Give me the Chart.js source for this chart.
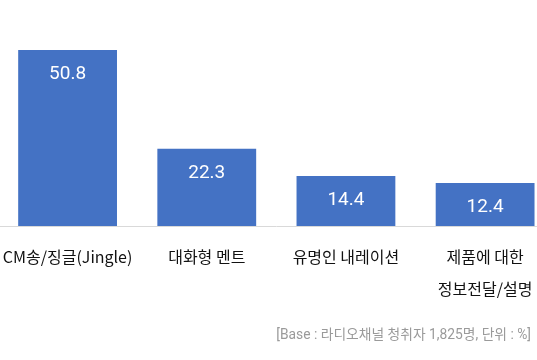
<!DOCTYPE html>
<html>
<head>
<meta charset="utf-8">
<script src="https://cdn.jsdelivr.net/npm/chart.js@4.4.1/dist/chart.umd.min.js"></script>
<style>
  html, body { margin: 0; padding: 0; background: #fff; overflow: hidden; width: 537px; height: 360px; }
  #wrap { position: absolute; left: -10px; top: 0; width: 580px; height: 360px; }
  #note { position: absolute; right: 6px; top: 325px; font: 13.8px Roboto, "Noto Sans CJK KR", sans-serif; line-height: 18px; color: #9a9a9a; white-space: nowrap; }
</style>
</head>
<body>
<div id="wrap"><canvas id="c"></canvas></div>
<div id="note">[Base : 라디오채널 청취자 1,825명, 단위 : %]</div>
<script>
const categories = ["CM송/징글(Jingle)", "대화형 멘트", "유명인 내레이션", ["제품에 대한", "정보전달/설명"]];
const values = [50.8, 22.3, 14.4, 12.4];
const yMax = 60;

const valueLabels = {
  id: 'valueLabels',
  afterDatasetsDraw(chart) {
    const ctx = chart.ctx;
    const meta = chart.getDatasetMeta(0);
    ctx.save();
    ctx.fillStyle = '#ffffff';
    ctx.font = '19px Roboto, "Noto Sans", sans-serif';
    ctx.textAlign = 'center';
    ctx.textBaseline = 'middle';
    meta.data.forEach((bar, i) => {
      ctx.fillText(values[i].toFixed(1), bar.x, bar.y + 24.5);
    });
    ctx.restore();
  }
};

new Chart(document.getElementById('c'), {
  type: 'bar',
  data: {
    labels: categories,
    datasets: [{
      data: values,
      backgroundColor: '#4472C4',
      borderWidth: 0,
      categoryPercentage: 1,
      barPercentage: 0.71
    }]
  },
  options: {
    responsive: true,
    maintainAspectRatio: false,
    animation: false,
    layout: { padding: { left: 8, right: 15.3, top: 18, bottom: 0 } },
    plugins: { legend: { display: false }, tooltip: { enabled: false } },
    scales: {
      x: {
        grid: { display: false, drawTicks: false },
        border: { display: true, color: '#d9d9d9', width: 1 },
        ticks: {
          color: '#111111',
          padding: 15,
          maxRotation: 0,
          autoSkip: false,
          font: { family: '"Noto Sans CJK KR", sans-serif', size: 16, lineHeight: '32px' }
        },
        afterFit(scale) { scale.height = 134; scale.paddingLeft = 0; scale.paddingRight = 0; }
      },
      y: {
        display: false,
        min: 0,
        max: yMax
      }
    }
  },
  plugins: [valueLabels]
});
</script>
</body>
</html>
